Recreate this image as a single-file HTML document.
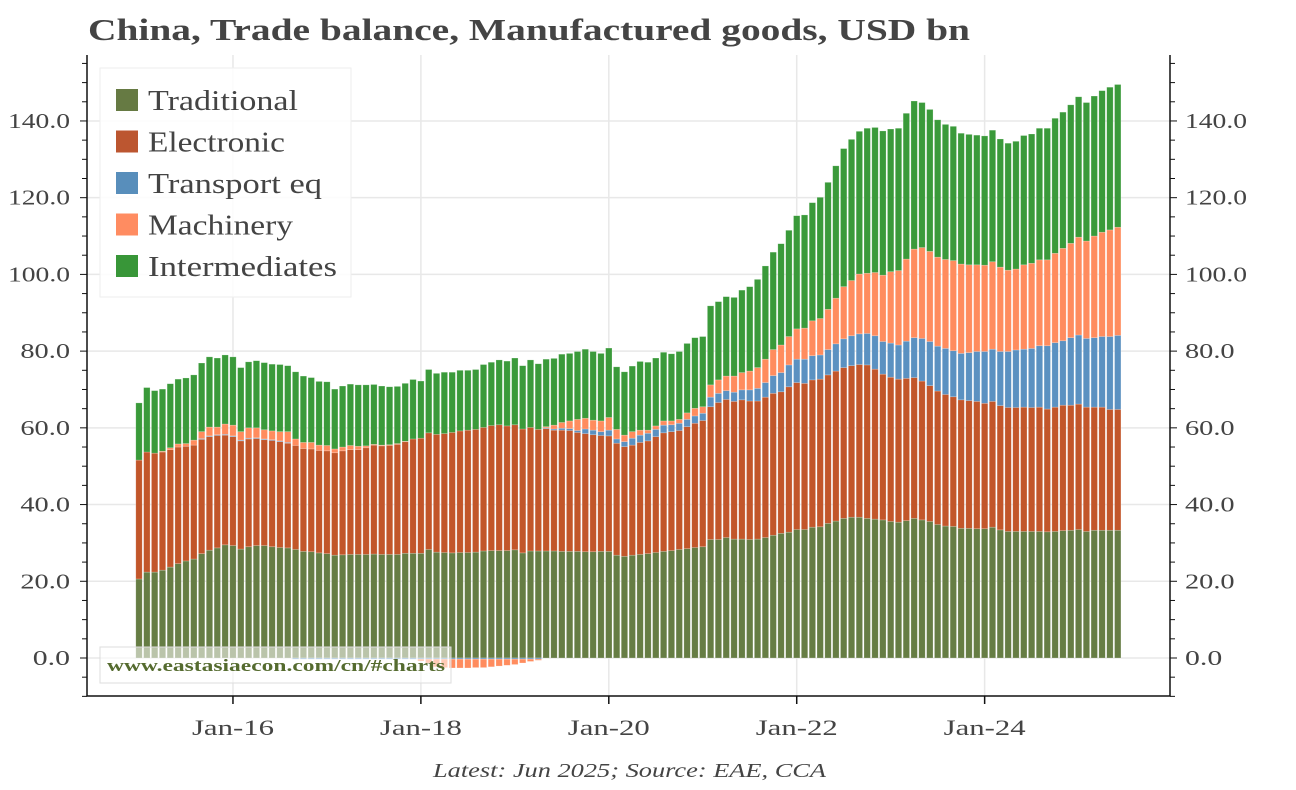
<!DOCTYPE html>
<html><head><meta charset="utf-8"><style>
body{margin:0;background:#fff;}
svg text{font-family:"Liberation Serif",serif;}
</style></head><body>
<svg id="chart" width="1296" height="785" xmlns="http://www.w3.org/2000/svg">
<text x="88" y="40" font-size="31" font-weight="bold" fill="#444" textLength="882" lengthAdjust="spacingAndGlyphs">China, Trade balance, Manufactured goods, USD bn</text>
<g id="grid"></g><g id="bars"></g><g id="axes"></g>
<g>
<rect x="100" y="68" width="251" height="229" fill="#fff" fill-opacity="0.85" stroke="#eee"/>
<g id="legend"></g></g>
<g>
<rect x="100" y="647" width="351" height="36" fill="#fff" fill-opacity="0.55" stroke="#ddd"/>
<text x="107" y="671" font-size="17" font-weight="bold" fill="#556b2f" textLength="338" lengthAdjust="spacingAndGlyphs">www.eastasiaecon.com/cn/#charts</text></g>
<text x="433" y="777" font-size="20" font-style="italic" fill="#444" textLength="393" lengthAdjust="spacingAndGlyphs">Latest: Jun 2025; Source: EAE, CCA</text>
</svg>
<script>
const seriesNames=["Traditional","Electronic","Transport eq","Machinery","Intermediates"];
const xTickLabels=["Jan-16","Jan-18","Jan-20","Jan-22","Jan-24"];
const xTickIndex=[12,36,60,84,108];
const yTickValues=[0,20,40,60,80,100,120,140];
const traditional=[20.6,22.4,22.4,22.9,23.7,24.6,25.3,25.8,27.2,28.1,28.7,29.5,29.3,28.4,29.0,29.3,29.3,29.0,28.8,28.7,28.3,27.8,27.7,27.4,27.2,26.8,26.9,27.0,27.0,27.0,27.1,27.0,27.0,27.0,27.3,27.3,27.3,28.3,27.6,27.5,27.4,27.5,27.5,27.6,27.9,28.0,28.0,28.0,28.2,27.4,27.9,27.9,27.9,27.9,27.8,27.8,27.8,27.7,27.7,27.8,27.8,26.8,26.5,26.8,27.0,27.2,27.5,27.8,28.0,28.3,28.5,28.8,29.0,30.9,30.9,31.4,31.0,31.0,30.9,31.0,31.4,32.0,32.5,32.8,33.5,33.5,34.1,34.2,35.1,35.7,36.4,36.7,36.7,36.4,36.2,36.0,35.6,35.4,35.8,36.4,36.0,35.6,34.8,34.4,34.3,33.8,33.8,33.7,33.7,34.1,33.4,33.0,33.0,33.0,33.0,33.0,32.9,33.0,33.2,33.3,33.5,33.0,33.3,33.3,33.3,33.3];
const electronic=[31.0,31.3,31.0,30.8,30.6,30.4,29.9,29.7,29.8,29.6,29.3,28.6,28.4,28.2,28.1,27.9,27.6,27.7,27.6,27.3,27.1,26.8,26.8,26.7,26.8,26.7,27.1,27.3,27.3,27.8,28.4,28.3,28.4,28.7,29.1,29.8,30.0,30.4,30.7,31.0,31.4,31.7,31.9,32.0,32.2,32.6,32.8,32.5,32.6,32.3,32.2,31.7,31.9,31.5,31.6,31.5,31.0,30.8,30.5,30.2,30.1,29.2,28.6,28.7,29.2,29.4,30.2,30.9,31.0,31.0,31.8,32.4,32.9,34.6,35.7,36.0,35.9,36.3,36.1,36.0,36.6,37.0,36.9,37.9,38.3,38.1,38.4,38.5,38.7,39.1,39.3,39.5,39.8,40.0,39.1,38.0,37.6,37.3,37.1,36.7,36.2,35.4,34.8,34.3,33.8,33.5,33.3,33.2,32.7,32.8,32.4,32.3,32.3,32.4,32.3,32.4,32.0,32.4,32.7,32.6,32.7,32.4,32.1,32.1,31.5,31.5];
const transport=[0,0,0,0,0,0,0,0,0.2,0.2,0.2,0.2,0.2,0.2,0.2,0.2,0.2,0.2,0.2,0.2,-0.3,-0.3,-0.3,-0.3,-0.3,-0.3,-0.3,-0.3,-0.3,-0.3,-0.3,-0.3,-0.3,-0.3,-0.3,-0.3,-0.3,-0.3,-0.3,-0.3,-0.3,-0.3,-0.3,-0.3,-0.3,-0.3,-0.3,-0.3,-0.3,-0.3,-0.3,-0.3,0.2,0.3,0.5,0.5,0.5,1.2,1.2,1.0,1.5,1.1,1.3,1.8,1.9,2.0,1.9,2.0,1.8,1.9,1.9,1.9,1.9,2.5,2.4,2.3,2.4,2.6,2.9,3.3,3.8,4.6,5.0,5.7,6.1,6.3,6.3,6.3,6.6,7.1,7.5,7.8,8.0,8.2,8.7,8.5,8.9,8.9,9.7,10.4,11.1,11.5,11.7,12.0,12.0,12.1,12.5,13.0,13.5,13.6,14.1,14.6,15.0,15.1,15.4,16.0,16.5,16.8,16.8,17.6,18.0,17.9,18.1,18.4,19.0,19.3];
const machinery=[0,0,0,0.2,0.5,0.8,0.7,1.3,1.8,2.3,2.0,2.7,2.8,2.2,2.7,2.6,2.4,2.3,2.4,2.8,1.7,1.6,1.7,1.4,1.4,1.0,1.0,1.1,0.9,0.5,0.2,0.2,0.2,0.2,0.1,0,-0.5,-1.0,-2.0,-2.2,-2.3,-2.3,-2.3,-2.2,-2.2,-2.0,-1.8,-1.6,-1.4,-1.0,-0.6,-0.3,0.3,1.0,1.5,2.0,2.9,2.8,2.6,2.8,3.3,2.5,1.7,1.7,1.3,0.8,0.9,1.1,1.0,1.0,1.7,2.0,1.7,3.2,3.5,3.8,4.2,4.5,4.9,5.4,6.1,6.8,7.2,7.4,7.9,8.1,9.1,9.5,10.5,11.9,13.6,14.4,15.6,15.7,16.5,17.3,18.6,19.4,21.4,23.1,23.7,23.5,23.2,23.2,23.5,23.3,22.9,22.6,22.5,22.8,22.0,21.2,21.1,22.0,22.2,22.4,22.4,23.3,24.1,24.6,25.5,25.4,26.5,27.2,27.8,28.2];
const intermediates=[14.9,16.8,16.3,16.2,16.7,16.9,17.1,17.0,17.9,18.3,18.0,18.0,17.8,16.7,17.2,17.5,17.5,17.4,17.5,17.2,17.5,17.3,16.9,16.6,16.6,15.6,15.9,16.0,16.0,15.9,15.6,15.4,15.1,14.9,15.1,15.5,14.9,16.5,15.9,16.0,15.7,15.8,15.6,15.6,16.4,16.5,16.9,16.9,17.4,16.5,17.6,17.1,17.6,17.4,17.8,17.6,17.7,18.0,17.9,17.6,18.1,16.3,16.5,17.1,17.9,17.7,17.7,17.9,17.5,17.7,18.1,18.4,18.3,20.6,20.4,20.7,20.5,21.5,22.0,23.0,24.3,25.4,26.4,27.7,29.5,29.5,30.8,31.6,33.1,34.5,36.0,36.8,37.2,37.8,37.8,37.6,37.2,37.1,38.0,38.6,37.8,37.0,35.8,35.2,35.0,34.1,34.0,33.8,33.7,34.3,33.4,33.1,33.3,33.7,33.7,34.3,34.3,35.2,35.5,36.1,36.6,36.1,36.5,36.9,37.2,37.2];
const series=[traditional,electronic,transport,machinery,intermediates];
const fills=["#667d44","#c2562a","#5b91c1","#ff8c5e","#3a9a3a"];
const legendFills=["#556b2f","#b5441a","#4682b4","#ff7f50","#228b22"];
const legendWidths=[150,137,174,145,189];
const NS="http://www.w3.org/2000/svg";
const L=87,R=1170,T=55,B=696;
const y=v=>658-v*3.836;
const x=i=>139+i*7.83;
function mk(tag,attrs,parent){const e=document.createElementNS(NS,tag);for(const k in attrs)e.setAttribute(k,attrs[k]);parent.appendChild(e);return e;}
const grid=document.getElementById('grid'),bars=document.getElementById('bars'),axes=document.getElementById('axes'),leg=document.getElementById('legend');
yTickValues.forEach(v=>{const g=mk('line',{x1:L,x2:R,y1:y(v),y2:y(v),stroke:'#e8e8e8','stroke-width':1.5},grid);

});
xTickIndex.forEach(i=>{const g=mk('line',{x1:x(i),x2:x(i),y1:T,y2:B,stroke:'#e8e8e8','stroke-width':1.5},grid);

});
for(let i=0;i<traditional.length;i++){let pos=0,neg=0;
series.forEach((s,k)=>{const v=s[i];if(!v)return;let y0,y1;
if(v>0){y0=pos;y1=pos+v;pos=y1;}else{y0=neg+v;y1=neg;neg=y0;}
const r=mk('rect',{x:x(i)-3.2,y:y(y1),width:6.4,height:Math.max(0.5,y(y0)-y(y1)),fill:fills[k],stroke:'#fff','stroke-opacity':0.35,'stroke-width':0.6},bars);

});}
let a=mk('path',{d:`M${L},${T}V${B}H${R}V${T}`,fill:'none',stroke:'#111','stroke-width':1.5},axes);


for(let v=-10;v<=155;v+=5){const maj=v%20===0;
mk('line',{x1:L-(maj?7:5),x2:L,y1:y(v),y2:y(v),stroke:'#111','stroke-width':1},axes);
mk('line',{x1:R,x2:R+(maj?7:5),y1:y(v),y2:y(v),stroke:'#111','stroke-width':1},axes);}
yTickValues.forEach(v=>{const s=v.toFixed(1);const w=s.length*12.4;
let t=mk('text',{x:L-17-w,y:y(v)+7,'font-size':21,fill:'#444',textLength:w,lengthAdjust:'spacingAndGlyphs'},axes);t.textContent=s;


t=mk('text',{x:R+15,y:y(v)+7,'font-size':21,fill:'#444',textLength:w,lengthAdjust:'spacingAndGlyphs'},axes);t.textContent=s;

});
xTickIndex.forEach((i,k)=>{mk('line',{x1:x(i),x2:x(i),y1:B,y2:B+8,stroke:'#111','stroke-width':1.5},axes);
const t=mk('text',{x:x(i)-41,y:735,'font-size':22,fill:'#444',textLength:82,lengthAdjust:'spacingAndGlyphs'},axes);t.textContent=xTickLabels[k];

});
seriesNames.forEach((n,k)=>{const yy=100+k*41.5;
const r=mk('rect',{x:116,y:yy-11,width:22,height:22,fill:legendFills[k],'fill-opacity':0.9},leg);


const t=mk('text',{x:148,y:yy+10,'font-size':29,fill:'#444',textLength:legendWidths[k],lengthAdjust:'spacingAndGlyphs'},leg);t.textContent=n;

});
</script>
</body></html>
